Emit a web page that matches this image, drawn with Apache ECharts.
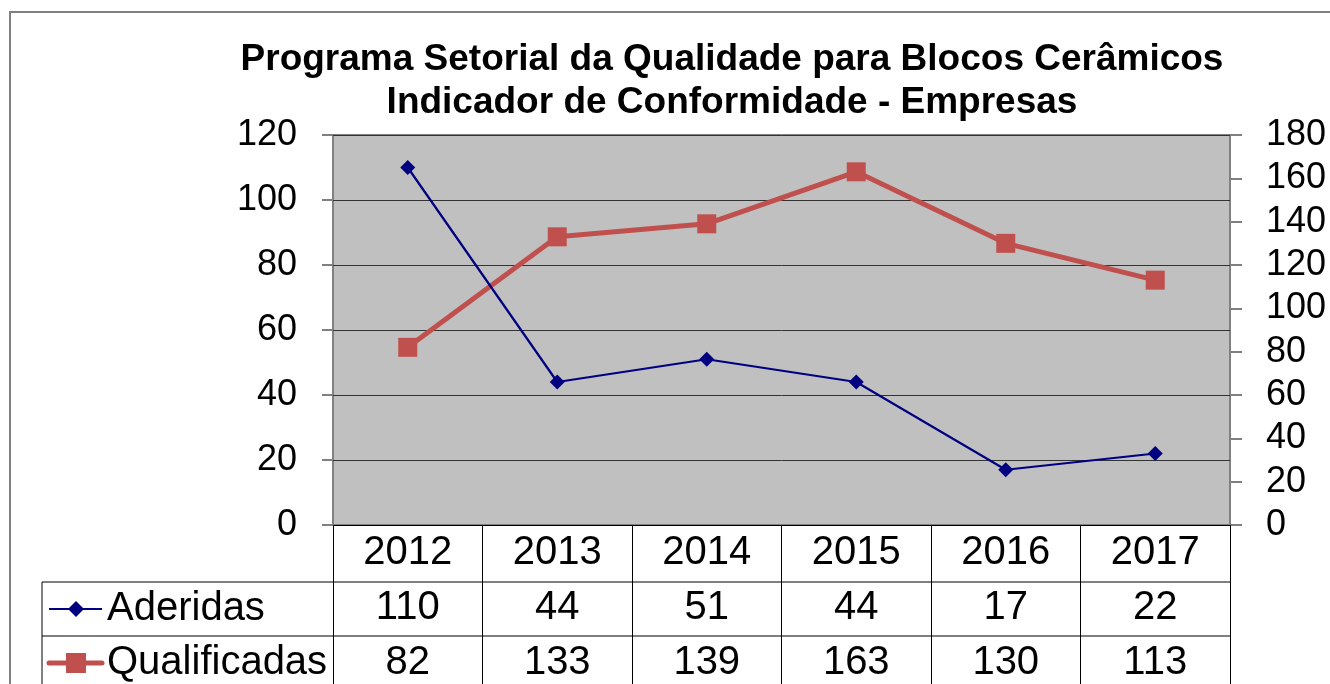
<!DOCTYPE html>
<html><head><meta charset="utf-8">
<script src="https://cdn.jsdelivr.net/npm/echarts@6/dist/echarts.min.js"></script>
<style>html,body{margin:0;padding:0;background:#fff}#c{width:1330px;height:684px}</style>
</head><body><div id="c"></div>
<script>
const titleLines = ['Programa Setorial da Qualidade para Blocos Cerâmicos', 'Indicador de Conformidade - Empresas'];
const years = ['2012', '2013', '2014', '2015', '2016', '2017'];
const aderidas = [110, 44, 51, 44, 17, 22];
const qualificadas = [82, 133, 139, 163, 130, 113];
const seriesNames = ['Aderidas', 'Qualificadas'];
const leftTicks = {min: 0, max: 120, interval: 20};
const rightTicks = {min: 0, max: 180, interval: 20};

const FONT = '"Liberation Sans", Arial, sans-serif';
const chart = echarts.init(document.getElementById('c'), null, {renderer: 'canvas'});
const G = {left: 333, right: 100, top: 135, bottom: 159};

chart.setOption({
  animation: false,
  backgroundColor: '#fff',
  title: {
    text: titleLines.join('\n'), left: 727, top: 33, textAlign: 'center',
    textStyle: {fontFamily: FONT, fontWeight: 'bold', fontSize: 37, color: '#000', lineHeight: 43}
  },
  grid: Object.assign({show: true, backgroundColor: '#C0C0C0', borderColor: '#808080', borderWidth: 2,
    containLabel: false, outerBoundsMode: 'none'}, G),
  xAxis: {
    type: 'category', data: years, boundaryGap: true,
    axisLine: {show: true, lineStyle: {color: '#000', width: 1}},
    axisTick: {show: true, length: 170, lineStyle: {color: '#000', width: 1}},
    axisLabel: {
      margin: 0, interval: 0, color: '#000', fontFamily: FONT, fontSize: 40, lineHeight: 55,
      formatter: function (v, i) { return v + '\n' + aderidas[i] + '\n' + qualificadas[i]; }
    },
    splitLine: {show: false}
  },
  yAxis: [
    {type: 'value', min: leftTicks.min, max: leftTicks.max, interval: leftTicks.interval,
     axisLine: {show: false}, axisTick: {show: true, length: 11, lineStyle: {color: '#808080', width: 2}},
     axisLabel: {margin: 36, color: '#000', fontFamily: FONT, fontSize: 36},
     splitLine: {show: true, lineStyle: {color: '#333', width: 1}}},
    {type: 'value', min: rightTicks.min, max: rightTicks.max, interval: rightTicks.interval, position: 'right',
     axisLine: {show: false}, axisTick: {show: true, length: 12, lineStyle: {color: '#808080', width: 2}},
     axisLabel: {margin: 36, color: '#000', fontFamily: FONT, fontSize: 36},
     splitLine: {show: false}}
  ],
  series: [
    {name: seriesNames[0], type: 'line', yAxisIndex: 0, data: aderidas,
     symbol: 'diamond', symbolSize: 15, lineStyle: {color: '#000080', width: 2.2},
     itemStyle: {color: '#000080'}, z: 3},
    {name: seriesNames[1], type: 'line', yAxisIndex: 1, data: qualificadas,
     symbol: 'rect', symbolSize: 19, lineStyle: {color: '#C0504D', width: 5},
     itemStyle: {color: '#C0504D'}, z: 2}
  ]
});

// table frame lines and legend keys
const x0 = chart.convertToPixel({xAxisIndex: 0}, years[0]);
const colW = chart.convertToPixel({xAxisIndex: 0}, years[1]) - x0;
const gridLeft = x0 - colW / 2;
const gridRight = gridLeft + colW * years.length;
const axisY = chart.convertToPixel({yAxisIndex: 0}, 0);
const tblLeft = 42;
const r1 = axisY + 57, r2 = r1 + 54;
const g = [];
g.push({type: 'rect', shape: {x: 10, y: 12, width: 1500, height: 900}, style: {fill: 'none', stroke: '#808080', lineWidth: 2}, silent: true, z: 0});
[r1, r2].forEach(y => g.push({type: 'line', shape: {x1: tblLeft, y1: y, x2: gridRight, y2: y}, style: {stroke: '#000', lineWidth: 1}, z: 10}));
g.push({type: 'line', shape: {x1: tblLeft, y1: r1, x2: tblLeft, y2: 700}, style: {stroke: '#000', lineWidth: 1}, z: 10});
// legend keys
const c1 = (r1 + r2) / 2, c2 = r2 + 27;
g.push({type: 'line', shape: {x1: 49, y1: c1, x2: 102, y2: c1}, style: {stroke: '#000080', lineWidth: 2}, z: 10});
g.push({type: 'polygon', shape: {points: [[76, c1 - 8], [84, c1], [76, c1 + 8], [68, c1]]}, style: {fill: '#000080'}, z: 11});
g.push({type: 'text', style: {text: seriesNames[0], x: 107, y: c1, verticalAlign: 'middle', font: '40px ' + FONT, fill: '#000'}, z: 10});
g.push({type: 'line', shape: {x1: 49, y1: c2, x2: 102, y2: c2}, style: {stroke: '#C0504D', lineWidth: 5, lineCap: 'round'}, z: 10});
g.push({type: 'rect', shape: {x: 66, y: c2 - 10, width: 20, height: 20}, style: {fill: '#C0504D'}, z: 11});
g.push({type: 'text', style: {text: seriesNames[1], x: 107, y: c2, verticalAlign: 'middle', font: '40px ' + FONT, fill: '#000'}, z: 10});
chart.setOption({graphic: g});
</script></body></html>
